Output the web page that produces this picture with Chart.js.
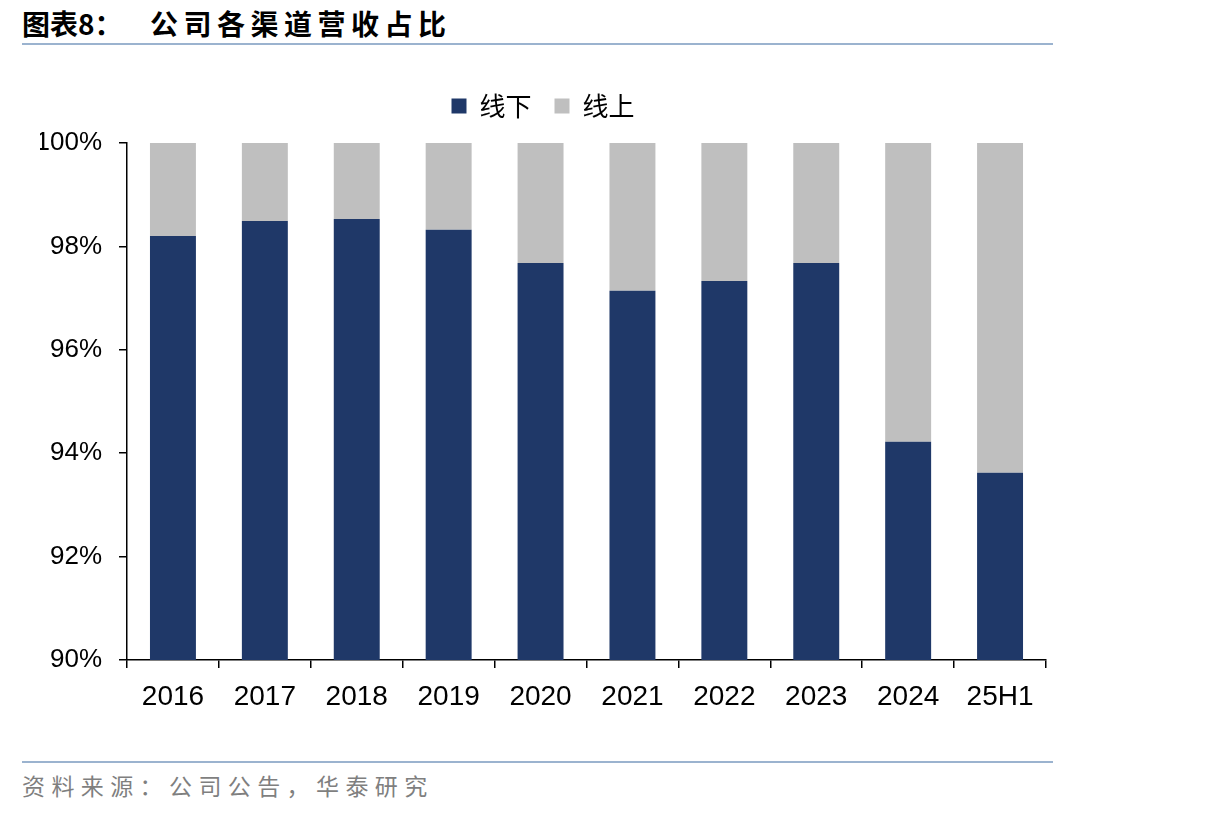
<!DOCTYPE html>
<html><head><meta charset="utf-8">
<script src="https://cdn.jsdelivr.net/npm/chart.js@4.4.1/dist/chart.umd.min.js"></script>
<style>
html,body{margin:0;padding:0;background:#fff;width:1206px;height:816px;overflow:hidden;}
#title{position:absolute;left:22px;top:3px;font:bold 28px "Noto Sans CJK SC",sans-serif;color:#000;white-space:nowrap;}
#title .t2{position:absolute;left:128px;top:0;letter-spacing:5.5px;}
.rule{position:absolute;left:22px;width:1031px;height:2px;background:#9BB3CF;}
#src{position:absolute;left:22px;top:768px;font:23px "Noto Sans CJK SC",sans-serif;letter-spacing:6.4px;color:#7F7F7F;white-space:nowrap;}
#wrap{position:absolute;left:0;top:0;width:1206px;height:816px;}
</style></head>
<body>
<div id="title"><span>图表8：</span><span class="t2">公司各渠道营收占比</span></div>
<div class="rule" style="top:43px"></div>
<div class="rule" style="top:761px"></div>
<div id="src">资料来源：公司公告，华泰研究</div>
<div id="wrap"><canvas id="c"></canvas></div>
<script>
const categories = ["2016","2017","2018","2019","2020","2021","2022","2023","2024","25H1"];
const offlineShare = [98.20, 98.49, 98.53, 98.32, 97.68, 97.14, 97.33, 97.68, 94.22, 93.62];
const onlineShare = [1.80, 1.51, 1.47, 1.68, 2.32, 2.86, 2.67, 2.32, 5.78, 6.38];
const yTicks = [90, 92, 94, 96, 98, 100];

const legendGap = {
  id: 'legendGap',
  beforeInit(chart) {
    const origFit = chart.legend.fit;
    chart.legend.fit = function () { origFit.call(this); this.height += 14; };
  }
};

new Chart(document.getElementById('c'), {
  type: 'bar',
  data: {
    labels: categories,
    datasets: [
      {label: '线下', data: offlineShare, backgroundColor: '#1F3868', borderWidth: 0},
      {label: '线上', data: onlineShare, backgroundColor: '#BFBFBF', borderWidth: 0}
    ]
  },
  options: {
    responsive: true, maintainAspectRatio: false, animation: false,
    layout: {padding: {top: 70, right: 160, left: 40, bottom: 0}},
    datasets: {bar: {barPercentage: 0.5, categoryPercentage: 1.0}},
    plugins: {
      legend: {
        position: 'top',
        labels: {font: {family: '"Noto Sans CJK SC", sans-serif', size: 26}, color: '#000', boxWidth: 15, boxHeight: 15, padding: 23}
      },
      tooltip: {enabled: false}
    },
    scales: {
      x: {
        stacked: true,
        grid: {display: true, drawOnChartArea: false, offset: true, color: '#000', tickLength: 8, lineWidth: 1.5},
        border: {color: '#000', width: 1.5},
        ticks: {font: {family: '"Liberation Sans", Arial, sans-serif', size: 28}, color: '#000', padding: 12},
        afterFit: s => { s.height = 156; }
      },
      y: {
        stacked: true, min: 90, max: 100,
        afterBuildTicks: s => { s.ticks = yTicks.map(v => ({value: v})); },
        grid: {display: true, drawOnChartArea: false, color: '#000', tickLength: 8, lineWidth: 1.5},
        border: {color: '#000', width: 1.5},
        ticks: {font: {family: '"Liberation Sans", Arial, sans-serif', size: 26}, color: '#000', padding: 17, callback: v => v + '%'},
        afterFit: s => { s.width = 87; }
      }
    }
  },
  plugins: [legendGap]
});
</script>
</body></html>
